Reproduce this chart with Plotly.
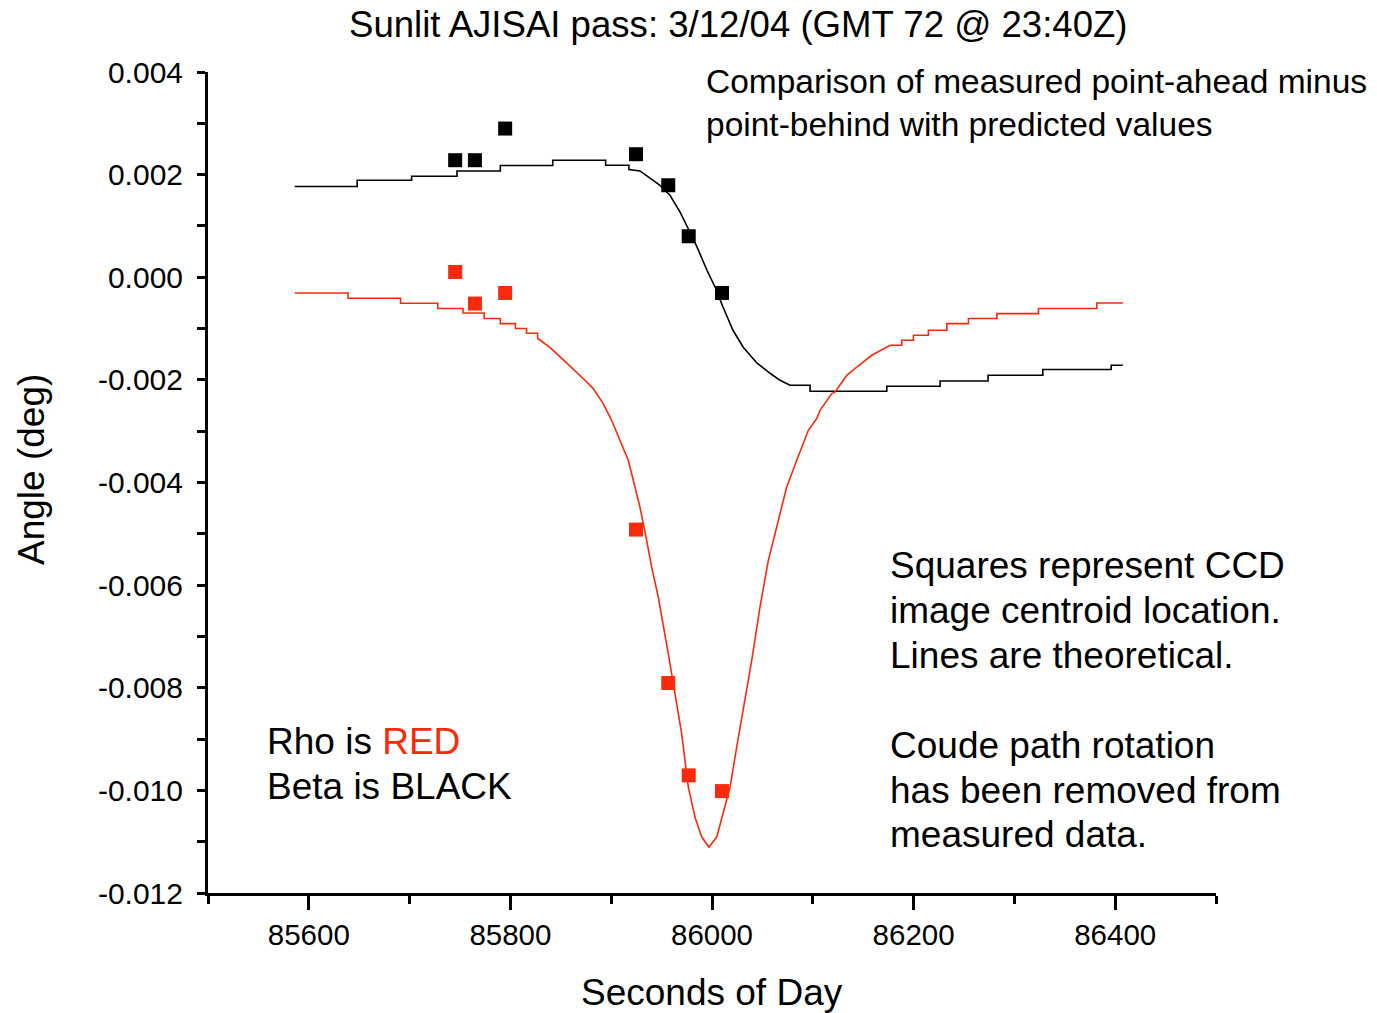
import plotly.graph_objects as go

# ---------------- data ----------------
# Theoretical beta (black) curve
beta_line_x = [85586, 85648, 85648, 85702, 85702, 85747, 85747, 85790, 85790, 85842, 85842,
               85894.5, 85894.5, 85917.6, 85917.6, 85928.5, 85938.5, 85948.4, 85958.3, 85968.2,
               85976.2, 85985.1, 85995.0, 86003.0, 86010.9, 86020.8, 86030.8, 86044.7, 86057.6,
               86067.5, 86077.4, 86097.3, 86097.3, 86173.4, 86173.4, 86226.3, 86226.3, 86273.9,
               86273.9, 86328.2, 86328.2, 86396.0, 86396.0, 86407.6]
beta_line_y = [1.77e-3, 1.77e-3, 1.891e-3, 1.891e-3, 1.969e-3, 1.969e-3, 2.072e-3, 2.072e-3,
               2.177e-3, 2.177e-3, 2.281e-3, 2.281e-3, 2.183e-3, 2.183e-3, 2.099e-3, 2.072e-3,
               1.930e-3, 1.793e-3, 1.598e-3, 1.273e-3, 0.955e-3, 0.591e-3, 0.136e-3, -0.189e-3,
               -0.579e-3, -1.033e-3, -1.359e-3, -1.676e-3, -1.871e-3, -2.008e-3, -2.105e-3,
               -2.105e-3, -2.222e-3, -2.222e-3, -2.125e-3, -2.125e-3, -2.021e-3, -2.021e-3,
               -1.910e-3, -1.910e-3, -1.799e-3, -1.799e-3, -1.715e-3, -1.715e-3]

# Theoretical rho (red) curve
rho_line_x = [85586, 85639, 85639, 85691, 85691, 85728, 85728, 85753, 85753, 85774, 85774,
              85790, 85790, 85805, 85805, 85816, 85816, 85827, 85827, 85840, 85852, 85863,
              85874.0, 85882.2, 85892.1, 85900.4, 85908.7, 85916.9, 85921.9, 85928.5, 85935.2,
              85940.1, 85946.7, 85951.6, 85956.6, 85963.3, 85969.9, 85976.5, 85983.1, 85989.8,
              85997.0, 86004.7, 86011.2, 86017.9, 86024.5, 86031.1, 86039.4, 86047.6, 86055.9,
              86064.2, 86074.1, 86084.1, 86095.6, 86103.9, 86107.2, 86118.8, 86122.1, 86130.3,
              86133.7, 86143.6, 86158.5, 86176.7, 86188.3, 86188.3, 86199.8, 86199.8, 86214.7,
              86214.7, 86233.0, 86233.0, 86254.4, 86254.4, 86282.6, 86282.6, 86323.9, 86323.9,
              86381.8, 86381.8, 86407.6]
rho_line_y = [-0.306e-3, -0.306e-3, -0.409e-3, -0.409e-3, -0.507e-3, -0.507e-3, -0.610e-3,
              -0.610e-3, -0.696e-3, -0.696e-3, -0.805e-3, -0.805e-3, -0.903e-3, -0.903e-3,
              -1.000e-3, -1.000e-3, -1.092e-3, -1.092e-3, -1.189e-3, -1.38e-3, -1.60e-3,
              -1.80e-3, -2.008e-3, -2.170e-3, -2.462e-3, -2.788e-3, -3.177e-3, -3.567e-3,
              -3.957e-3, -4.478e-3, -5.127e-3, -5.647e-3, -6.232e-3, -6.752e-3, -7.335e-3,
              -8.115e-3, -8.895e-3, -9.936e-3, -10.520e-3, -10.910e-3, -11.105e-3, -10.910e-3,
              -10.454e-3, -9.936e-3, -9.156e-3, -8.441e-3, -7.466e-3, -6.427e-3, -5.517e-3,
              -4.867e-3, -4.088e-3, -3.567e-3, -2.982e-3, -2.754e-3, -2.593e-3, -2.267e-3,
              -2.236e-3, -2.008e-3, -1.910e-3, -1.749e-3, -1.520e-3, -1.326e-3, -1.326e-3,
              -1.228e-3, -1.228e-3, -1.131e-3, -1.131e-3, -1.033e-3, -1.033e-3, -0.903e-3,
              -0.903e-3, -0.805e-3, -0.805e-3, -0.708e-3, -0.708e-3, -0.610e-3, -0.610e-3,
              -0.501e-3, -0.501e-3]

# Measured (CCD centroid) squares
meas_x = [85745.2, 85764.8, 85794.8, 85924.6, 85956.6, 85976.9, 86009.9]
beta_meas = [2.281e-3, 2.281e-3, 2.898e-3, 2.398e-3, 1.793e-3, 0.799e-3, -0.306e-3]
rho_meas = [0.103e-3, -0.513e-3, -0.306e-3, -4.918e-3, -7.908e-3, -9.708e-3, -10.014e-3]

# Tick labels
x_tick_vals = [85600, 85800, 86000, 86200, 86400]
x_tick_text = ["85600", "85800", "86000", "86200", "86400"]
y_tick_vals = [0.004, 0.002, 0.0, -0.002, -0.004, -0.006, -0.008, -0.010, -0.012]
y_tick_text = ["0.004", "0.002", "0.000", "-0.002", "-0.004", "-0.006", "-0.008",
               "-0.010", "-0.012"]

RED = "#f82a0c"
FONT = "Liberation Sans, Arial, sans-serif"

fig = go.Figure()
fig.add_trace(go.Scatter(x=beta_line_x, y=beta_line_y, mode="lines",
                         line=dict(color="black", width=1.6), showlegend=False))
fig.add_trace(go.Scatter(x=rho_line_x, y=rho_line_y, mode="lines",
                         line=dict(color=RED, width=1.6), showlegend=False))
fig.add_trace(go.Scatter(x=meas_x, y=beta_meas, mode="markers",
                         marker=dict(symbol="square", size=14, color="black",
                                     line=dict(width=0)), showlegend=False))
fig.add_trace(go.Scatter(x=meas_x, y=rho_meas, mode="markers",
                         marker=dict(symbol="square", size=14, color=RED,
                                     line=dict(width=0)), showlegend=False))

L, R, T, B = 208, 161, 72, 120
W, H = 1377, 1013
pw, ph = W - L - R, H - T - B


def px(xp):
    return (xp - L) / pw


def py(yp):
    return (H - B - yp) / ph


annotations = []


def add_text(text, xpix, ypix, size, color="black", xanchor="left", angle=0):
    annotations.append(dict(text=text, x=px(xpix), y=py(ypix), xref="paper", yref="paper",
                            xanchor=xanchor, yanchor="middle", showarrow=False,
                            textangle=angle, font=dict(family=FONT, size=size, color=color)))


add_text("Sunlit AJISAI pass: 3/12/04 (GMT 72 @ 23:40Z)", 738, 25, 36.6, xanchor="center")
add_text("Comparison of measured point-ahead minus", 704, 82, 33.5)
add_text("point-behind with predicted values", 704, 124, 33.5)
for txt, yy in [("Squares represent CCD", 565), ("image centroid location.", 610),
                ("Lines are theoretical.", 655), ("Coude path rotation", 745),
                ("has been removed from", 790), ("measured data.", 834)]:
    add_text(txt, 888, yy, 37)
add_text("Rho is <span style='color:%s'>RED</span>" % RED, 265, 741, 37)
add_text("Beta is BLACK", 265, 786, 37)
add_text("Seconds of Day", 712, 993, 37, xanchor="center")
add_text("Angle (deg)", 32, 470, 37, xanchor="center", angle=-90)

fig.update_layout(
    width=W, height=H,
    margin=dict(l=L, r=R, t=T, b=B, pad=0),
    paper_bgcolor="white", plot_bgcolor="white",
    font=dict(family=FONT, color="black"),
    annotations=annotations,
    xaxis=dict(range=[85500, 86500], showgrid=False, zeroline=False,
               showline=True, linecolor="black", linewidth=3,
               ticks="outside", ticklen=14, tickwidth=3, tickcolor="black",
               tickvals=x_tick_vals, ticktext=x_tick_text,
               tickfont=dict(family=FONT, size=29.5, color="black"),
               ticklabelstandoff=0,
               minor=dict(dtick=100, tick0=85500, ticks="outside", ticklen=8, tickwidth=3,
                          tickcolor="black", showgrid=False)),
    yaxis=dict(range=[-0.012, 0.004], showgrid=False, zeroline=False,
               showline=True, linecolor="black", linewidth=3,
               ticks="outside", ticklen=8, tickwidth=3, tickcolor="black",
               tickvals=y_tick_vals, ticktext=y_tick_text,
               tickfont=dict(family=FONT, size=30, color="black"),
               ticklabelstandoff=8,
               minor=dict(dtick=0.001, tick0=0, ticks="outside", ticklen=8, tickwidth=3,
                          tickcolor="black", showgrid=False)),
)

fig.write_html("out.html")
